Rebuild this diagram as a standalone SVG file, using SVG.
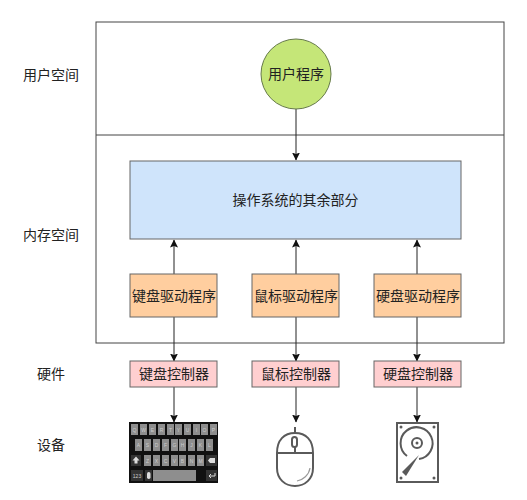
<svg xmlns="http://www.w3.org/2000/svg" width="527" height="500" viewBox="0 0 527 500">
<defs>
<marker id="arrow" markerUnits="userSpaceOnUse" markerWidth="9" markerHeight="9" refX="7.5" refY="4" orient="auto"><path d="M0 0L8 4L0 8L1.500 4Z" fill="#111"/></marker>
</defs>
<style>
text{font-family:"Noto Sans CJK SC","Liberation Sans",sans-serif;font-size:14px;fill:#222;text-anchor:middle;dominant-baseline:central}
.box{stroke:#666;stroke-width:1}
.frame{fill:none;stroke:#444;stroke-width:1}
.drv{fill:#ffce9f}
.ctl{fill:#ffcfd0}
.c{stroke:#222;stroke-width:1;fill:none;marker-end:url(#arrow)}
.k{fill:#8e8e8e}
.kd{fill:#333}
text.kt{font-size:5px;fill:#ccc;font-family:"Liberation Sans",sans-serif}
.ic{fill:none;stroke:#5a5a5a;stroke-width:2}
</style>
<rect width="527" height="500" fill="#fff"/>
<g id="frames">
<rect class="frame" x="96" y="22" width="408" height="321"/>
<line class="frame" x1="96" y1="135" x2="504" y2="135"/>
</g>
<g id="labels">
<text x="51" y="74">用户空间</text>
<text x="51" y="234">内存空间</text>
<text x="51" y="373">硬件</text>
<text x="51" y="444">设备</text>
</g>
<g id="connectors">
<path class="c" d="M296 109V160"/>
<path class="c" d="M174 274V240"/>
<path class="c" d="M296 274V240"/>
<path class="c" d="M417 274V240"/>
<path class="c" d="M174 317V361"/>
<path class="c" d="M296 317V361"/>
<path class="c" d="M417 317V361"/>
<path class="c" d="M174 387V422"/>
<path class="c" d="M296 387V422"/>
<path class="c" d="M417 387V422"/>
</g>
<g id="user-program"><circle cx="296" cy="74" r="35" fill="#c5e678" stroke="#667a4a"/><text x="296" y="73">用户程序</text></g>
<g id="os-rest"><rect class="box" x="130" y="161" width="331" height="78" fill="#cfe4fb"/><text x="295.500" y="199">操作系统的其余部分</text></g>
<g id="kbd-driver"><rect class="box drv" x="130" y="274" width="87" height="43"/><text x="174" y="295">键盘驱动程序</text></g>
<g id="mouse-driver"><rect class="box drv" x="252" y="274" width="87" height="43"/><text x="296" y="295">鼠标驱动程序</text></g>
<g id="disk-driver"><rect class="box drv" x="374" y="274" width="87" height="43"/><text x="418" y="295">硬盘驱动程序</text></g>
<g id="kbd-ctrl"><rect class="box ctl" x="130" y="361" width="87" height="26"/><text x="174" y="373">键盘控制器</text></g>
<g id="mouse-ctrl"><rect class="box ctl" x="252" y="361" width="87" height="26"/><text x="296" y="373">鼠标控制器</text></g>
<g id="disk-ctrl"><rect class="box ctl" x="374" y="361" width="87" height="26"/><text x="418" y="373">硬盘控制器</text></g>
<g id="keyboard">
<rect x="129" y="422" width="89" height="61" fill="#111"/>
<g class="k">
<rect x="131" y="424" width="7" height="11"/><rect x="140" y="424" width="7" height="11"/><rect x="149" y="424" width="7" height="11"/><rect x="158" y="424" width="7" height="11"/><rect x="167" y="424" width="7" height="11"/><rect x="175" y="424" width="7" height="11"/><rect x="184" y="424" width="7" height="11"/><rect x="193" y="424" width="7" height="11"/><rect x="201" y="424" width="7" height="11"/><rect x="210" y="424" width="7" height="11"/>
<rect x="135" y="439" width="7" height="12"/><rect x="144" y="439" width="7" height="12"/><rect x="153" y="439" width="7" height="12"/><rect x="162" y="439" width="7" height="12"/><rect x="171" y="439" width="7" height="12"/><rect x="179" y="439" width="7" height="12"/><rect x="188" y="439" width="7" height="12"/><rect x="197" y="439" width="7" height="12"/><rect x="206" y="439" width="7" height="12"/>
<rect x="144" y="455" width="7" height="11"/><rect x="153" y="455" width="7" height="11"/><rect x="162" y="455" width="7" height="11"/><rect x="171" y="455" width="7" height="11"/><rect x="179" y="455" width="7" height="11"/><rect x="188" y="455" width="7" height="11"/><rect x="197" y="455" width="7" height="11"/>
<rect x="153" y="470" width="43" height="11"/>
</g>
<rect class="kd" x="131" y="455" width="10" height="11"/><rect class="kd" x="206" y="455" width="11" height="11"/><rect class="kd" x="131" y="470" width="12" height="11"/><rect class="kd" x="145" y="470" width="7" height="11"/><rect class="kd" x="206" y="470" width="11" height="11"/>
<path d="M136 456.500l3.500 4h-2v3h-3v-3h-2z" fill="#ddd"/>
<path d="M208 460.500l2-2.500h5v5h-5z" fill="#ddd"/>
<rect x="147" y="472" width="3.500" height="7" rx="1.700" fill="#ddd"/>
<path d="M215 473v3h-6m2-2l-2 2 2 2" fill="none" stroke="#ddd"/>
<g>
<text class="kt" x="134.500" y="429.500">Q</text><text class="kt" x="143.500" y="429.500">W</text><text class="kt" x="152.500" y="429.500">E</text><text class="kt" x="161.500" y="429.500">R</text><text class="kt" x="170.500" y="429.500">T</text><text class="kt" x="178.500" y="429.500">Y</text><text class="kt" x="187.500" y="429.500">U</text><text class="kt" x="196.500" y="429.500">I</text><text class="kt" x="204.500" y="429.500">O</text><text class="kt" x="213.500" y="429.500">P</text>
<text class="kt" x="138.500" y="445">A</text><text class="kt" x="147.500" y="445">S</text><text class="kt" x="156.500" y="445">D</text><text class="kt" x="165.500" y="445">F</text><text class="kt" x="174.500" y="445">G</text><text class="kt" x="182.500" y="445">H</text><text class="kt" x="191.500" y="445">J</text><text class="kt" x="200.500" y="445">K</text><text class="kt" x="209.500" y="445">L</text>
<text class="kt" x="147.500" y="460.500">Z</text><text class="kt" x="156.500" y="460.500">X</text><text class="kt" x="165.500" y="460.500">C</text><text class="kt" x="174.500" y="460.500">V</text><text class="kt" x="182.500" y="460.500">B</text><text class="kt" x="191.500" y="460.500">N</text><text class="kt" x="200.500" y="460.500">M</text>
<text class="kt" x="137" y="475.500">123</text>
</g>
</g>
<g id="mouse">
<path class="ic" d="M295 427V433M295 447V453"/>
<path class="ic" d="M277 453C277 440 284 433 295 433C306 433 313 440 313 453V468C313 479 305 486 295 486C285 486 277 479 277 468Z"/>
<path class="ic" d="M277 453H313"/>
<rect class="ic" x="292" y="437" width="5" height="10" rx="2.500"/>
<path d="M297 481C303 480 309 475 310 468" fill="none" stroke="#999" stroke-width="1.200"/>
</g>
<g id="disk">
<rect class="ic" x="397" y="423" width="41" height="59"/>
<path class="ic" d="M407 456A16 16 0 1 1 419 459"/>
<circle class="ic" cx="417" cy="443" r="5"/>
<circle cx="417" cy="443" r="1.500" fill="#5a5a5a"/>
<path d="M419 455L402 472L406 476Z" fill="#5a5a5a"/>
<circle cx="401" cy="427" r="1.500" fill="#5a5a5a"/><circle cx="434" cy="427" r="1.500" fill="#5a5a5a"/><circle cx="401" cy="478" r="1.500" fill="#5a5a5a"/><circle cx="434" cy="478" r="1.500" fill="#5a5a5a"/>
</g>
</svg>
